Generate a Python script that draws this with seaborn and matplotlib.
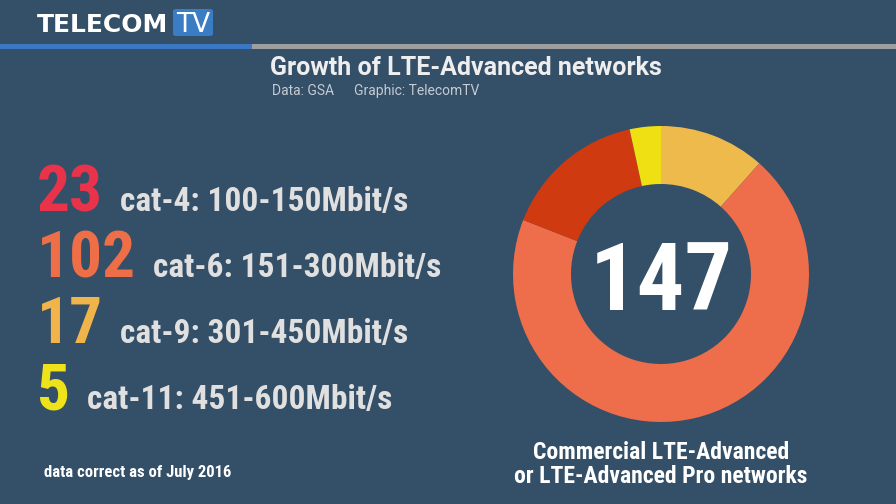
import matplotlib
matplotlib.use("Agg")
import matplotlib.pyplot as plt
import seaborn as sns
from matplotlib.patches import FancyBboxPatch, Rectangle
from matplotlib.text import Annotation

# Data
counts = [23, 102, 17, 5]
categories = ["cat-4: 100-150Mbit/s", "cat-6: 151-300Mbit/s",
              "cat-9: 301-450Mbit/s", "cat-11: 451-600Mbit/s"]
number_colors = ["#E8334A", "#EE6E48", "#F0B44A", "#EEE21A"]
# donut order clockwise from 12 o'clock
donut_values = [17, 102, 23, 5]
donut_colors = ["#EDBA4B", "#EE6D4A", "#D03A10", "#EFE014"]
total = sum(counts)

title = "Growth of LTE-Advanced networks"
source_txt = "Data: GSA"
graphic_txt = "Graphic: TelecomTV"
footnote = "data correct as of July 2016"
donut_caption = "Commercial LTE-Advanced\nor LTE-Advanced Pro networks"

BG = "#344F68"
W, H = 896, 504

sns.set_style("dark")
cond = ["Roboto Condensed", "Liberation Sans Narrow", "Roboto", "DejaVu Sans"]
plt.rcParams['font.family'] = ["Roboto", "DejaVu Sans"]

fig = plt.figure(figsize=(W / 100, H / 100), dpi=100, facecolor=BG)


def px(x, y):
    return x / W, 1 - y / H


# header: logo and rule
fig.text(*px(37, 32), "TELECOM", family=["DejaVu Sans"], fontweight="bold",
         fontsize=18, color="white", va="baseline", ha="left")
fig.patches.append(FancyBboxPatch(px(173, 36), 40 / W, 27 / H,
                                  boxstyle="round,pad=0,rounding_size=0.004",
                                  transform=fig.transFigure, facecolor="#3B7DC4",
                                  edgecolor="none"))
fig.text(*px(193, 32), "TV", family=["DejaVu Sans"], fontsize=19,
         color="white", va="baseline", ha="center")
fig.patches.append(Rectangle(px(0, 49), 252 / W, 5 / H, transform=fig.transFigure,
                             facecolor="#3A78C4", edgecolor="none"))
fig.patches.append(Rectangle(px(252, 49), (W - 252) / W, 5 / H, transform=fig.transFigure,
                             facecolor="#9E9E9E", edgecolor="none"))

# title
fig.text(*px(466, 75), title, fontsize=18, fontweight="bold", color="#EEEEEE",
         ha="center", va="baseline")
fig.text(*px(272, 95), source_txt, fontsize=10, color="#C5CBD2", ha="left", va="baseline")
fig.text(*px(354, 95), graphic_txt, fontsize=10, color="#C5CBD2", ha="left", va="baseline")

# donut
cx, cy, r = 661, 274, 148
ax = fig.add_axes([(cx - r) / W, (H - cy - r) / H, 2 * r / W, 2 * r / H])
ax.set_facecolor(BG)
ax.pie(donut_values, colors=donut_colors, startangle=90, counterclock=False,
       radius=1, wedgeprops=dict(width=58 / 148, edgecolor="none"))
ax.set_xlim(-1, 1)
ax.set_ylim(-1, 1)
ax.set_aspect("equal")
ax.axis("off")
ax.text(0, 0, str(total), family=cond, fontweight="bold", fontsize=68,
        color="white", ha="center", va="center_baseline")

# left list of counts
baselines = [211, 277, 343, 409]
for n, label, col, yb in zip(counts, categories, number_colors, baselines):
    t = fig.text(*px(37, yb), str(n), family=cond, fontweight="bold", fontsize=47,
                 color=col, ha="left", va="baseline")
    ann = Annotation(label, xy=(1, 1 - yb / H), xycoords=(t, "figure fraction"),
                     xytext=(12, 0), textcoords="offset points",
                     family=cond, fontweight="bold", fontsize=24,
                     color="#E0E0E0", ha="left", va="baseline")
    fig.add_artist(ann)

fig.text(*px(44, 477), footnote, family=cond, fontweight="bold", fontsize=12,
         color="white", ha="left", va="baseline")

fig.text(*px(661, 483), donut_caption, family=cond, fontweight="bold", fontsize=17,
         color="white", ha="center", va="baseline", linespacing=1.05)

fig.savefig("out.png", dpi=100, facecolor=BG)
